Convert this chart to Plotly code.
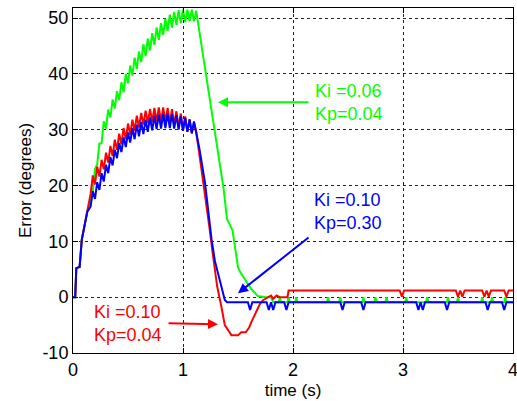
import plotly.graph_objects as go

# ---------------- data ----------------
t_green = [0.0, 0.02, 0.03, 0.06, 0.08, 0.11, 0.13, 0.16,
           0.18, 0.20, 0.22, 0.24, 0.26, 0.28, 0.30, 0.32, 0.34, 0.36, 0.38, 0.40,
           0.42, 0.44, 0.46, 0.48, 0.50, 0.52, 0.54, 0.56, 0.58, 0.60, 0.62, 0.64,
           0.66, 0.68, 0.70, 0.72, 0.74, 0.76, 0.78, 0.80, 0.82, 0.84, 0.86, 0.88,
           0.90, 0.92, 0.94, 0.96, 0.98, 1.00, 1.02, 1.04, 1.06, 1.08, 1.10, 1.12,
           1.31, 1.37, 1.40, 1.45, 1.50, 1.52, 1.57, 1.62, 1.68, 1.75, 1.80, 1.82,
           1.87, 1.88, 1.89, 1.95, 1.96, 1.97, 2.02, 2.03, 2.04, 2.31, 2.32, 2.33,
           2.42, 2.43, 2.44, 2.63, 2.64, 2.65, 2.74, 2.75, 2.76, 2.84, 2.85, 2.86,
           3.02, 3.03, 3.04, 3.21, 3.22, 3.23, 3.40, 3.41, 3.42, 3.49, 3.50, 3.51,
           3.71, 3.72, 3.73, 3.80, 3.81, 3.82, 3.92, 3.93, 3.94, 4.0]
err_green = [0.0, 0.0, 5.2, 5.4, 10.3, 13.5, 15.3, 17.0,
             18.8, 23.0, 23.8, 27.5, 27.6, 31.5, 30.2, 33.6, 32.2, 35.4, 33.8, 36.9,
             35.3, 38.5, 36.7, 40.0, 38.3, 41.5, 39.7, 42.9, 40.9, 44.0, 42.1, 45.3,
             43.2, 46.3, 44.2, 47.3, 45.2, 48.3, 46.1, 49.1, 47.0, 49.9, 47.7, 50.6,
             48.3, 51.1, 48.8, 51.4, 49.1, 51.5, 49.3, 51.5, 49.4, 51.5, 49.4, 51.3,
             26.5, 19.3, 14.0, 12.0, 5.4, 4.5, 3.0, 1.5, 0.2, 0.0, 0.0, -0.9,
             -0.9, 0.0, -0.9, -0.9, 0.0, -0.9, -0.9, 0.0, -0.9, -0.9, 0.0, -0.9,
             -0.9, 0.0, -0.9, -0.9, 0.0, -0.9, -0.9, 0.0, -0.9, -0.9, 0.0, -0.9,
             -0.9, 0.0, -0.9, -0.9, 0.0, -0.9, -0.9, 0.0, -0.9, -0.9, 0.0, -0.9,
             -0.9, 0.0, -0.9, -0.9, 0.0, -0.9, -0.9, 0.0, -0.9, -0.9]

t_red = [0.0, 0.02, 0.03, 0.06, 0.08, 0.11, 0.13,
         0.16, 0.18, 0.20, 0.22, 0.24, 0.26, 0.28, 0.30, 0.32, 0.34, 0.36, 0.38,
         0.40, 0.42, 0.44, 0.46, 0.48, 0.50, 0.52, 0.54, 0.56, 0.58, 0.60, 0.62,
         0.64, 0.66, 0.68, 0.70, 0.72, 0.74, 0.76, 0.78, 0.80, 0.82, 0.84, 0.86,
         0.88, 0.90, 0.92, 0.94, 0.96, 0.98, 1.00, 1.02, 1.04, 1.06, 1.08, 1.10, 1.12,
         1.16, 1.20, 1.24, 1.27, 1.31, 1.35, 1.38, 1.42, 1.44, 1.50, 1.53, 1.57,
         1.60, 1.62, 1.64, 1.67, 1.70, 1.73, 1.77, 1.80, 1.82, 1.85, 1.88, 1.95,
         1.96, 2.97, 2.99, 3.01, 3.48, 3.50, 3.52, 3.54, 3.56, 3.72, 3.74, 3.76,
         3.78, 3.80, 3.92, 3.94, 3.96, 4.0]
err_red = [0.0, 0.0, 5.2, 5.4, 10.3, 13.5, 15.3,
           18.5, 21.8, 20.2, 23.4, 21.6, 24.6, 22.9, 25.9, 24.1, 27.1, 25.3, 28.2,
           26.4, 29.3, 27.4, 30.3, 28.3, 31.1, 29.1, 31.8, 29.8, 32.5, 30.4, 33.0,
           30.9, 33.4, 31.2, 33.7, 31.4, 33.9, 31.5, 34.0, 31.5, 34.0, 31.4, 33.9,
           31.2, 33.7, 30.9, 33.3, 30.5, 32.9, 30.0, 32.4, 29.6, 31.9, 29.3, 31.3, 29.6,
           24.0, 18.5, 12.5, 7.9, 2.0, -1.8, -5.0, -6.2, -6.8, -6.8, -6.3, -6.3,
           -5.5, -4.5, -3.6, -2.5, -1.2, -0.5, 0.0, 0.3, -0.3, 0.3, 0.0, 0.0,
           1.2, 1.2, 0.1, 1.2, 1.2, 0.1, 1.2, 0.1, 1.2, 1.2, 0.1, 1.2,
           0.1, 1.2, 1.2, 0.1, 1.2, 1.2]

t_blue = [0.0, 0.02, 0.03, 0.06, 0.08, 0.11, 0.13,
          0.16, 0.18, 0.20, 0.22, 0.24, 0.26, 0.28, 0.30, 0.32, 0.34, 0.36, 0.38,
          0.40, 0.42, 0.44, 0.46, 0.48, 0.50, 0.52, 0.54, 0.56, 0.58, 0.60, 0.62,
          0.64, 0.66, 0.68, 0.70, 0.72, 0.74, 0.76, 0.78, 0.80, 0.82, 0.84, 0.86,
          0.88, 0.90, 0.92, 0.94, 0.96, 0.98, 1.00, 1.02, 1.04, 1.06, 1.08, 1.10, 1.12,
          1.15, 1.20, 1.26, 1.29, 1.32, 1.35, 1.38, 1.40,
          1.59, 1.61, 1.63, 1.76, 1.78, 1.80, 1.82, 1.84, 1.92, 1.94, 1.96,
          2.43, 2.45, 2.47, 2.62, 2.64, 2.66, 3.12, 3.14, 3.16, 3.18, 3.20,
          3.38, 3.40, 3.42, 3.75, 3.77, 3.79, 3.90, 3.92, 3.94, 4.0]
err_blue = [0.0, 0.0, 5.2, 5.4, 10.3, 13.5, 15.3,
            16.2, 19.0, 17.6, 20.6, 19.2, 22.2, 20.7, 23.7, 22.2, 25.1, 23.6, 26.4,
            24.9, 27.6, 26.0, 28.6, 26.9, 29.5, 27.7, 30.3, 28.3, 30.9, 28.8, 31.4,
            29.2, 31.8, 29.6, 32.2, 29.9, 32.5, 30.1, 32.7, 30.2, 32.8, 30.3, 32.9,
            30.3, 32.8, 30.2, 32.6, 30.0, 32.4, 29.8, 32.1, 29.6, 31.8, 29.4, 31.5, 29.5,
            26.5, 20.5, 10.3, 6.5, 4.3, 1.8, -0.5, -0.9,
            -0.9, -2.3, -0.9, -0.9, -2.3, -0.9, -2.3, -0.9, -0.9, -2.3, -0.9,
            -0.9, -2.3, -0.9, -0.9, -2.3, -0.9, -0.9, -2.3, -0.9, -2.3, -0.9,
            -0.9, -2.3, -0.9, -0.9, -2.3, -0.9, -0.9, -2.3, -0.9, -0.9]

x_ticks = [0, 1, 2, 3, 4]
y_ticks = [-10, 0, 10, 20, 30, 40, 50]

GREEN = "#00ff00"
RED = "#ff0000"
BLUE = "#0000ff"
FONT = "Liberation Sans, Arial, sans-serif"

fig = go.Figure()
fig.add_trace(go.Scatter(x=t_green, y=err_green, mode="lines",
                         line=dict(color=GREEN, width=2)))
fig.add_trace(go.Scatter(x=t_red, y=err_red, mode="lines",
                         line=dict(color=RED, width=2)))
fig.add_trace(go.Scatter(x=t_blue, y=err_blue, mode="lines",
                         line=dict(color=BLUE, width=2)))

annotations = [
    # green
    dict(x=2.18, y=34.8, text="Ki =0.06<br>Kp=0.04", showarrow=False,
         xanchor="left", yanchor="middle", align="left",
         font=dict(color=GREEN, size=18, family=FONT)),
    dict(x=1.318, y=34.9, ax=2.155, ay=34.9, xref="x", yref="y", axref="x", ayref="y",
         text="", showarrow=True, arrowhead=2, arrowsize=1, arrowwidth=2, arrowcolor=GREEN),
    # blue
    dict(x=2.17, y=15.4, text="Ki =0.10<br>Kp=0.30", showarrow=False,
         xanchor="left", yanchor="middle", align="left",
         font=dict(color=BLUE, size=18, family=FONT)),
    dict(x=1.5, y=0.7, ax=2.155, ay=10.9, xref="x", yref="y", axref="x", ayref="y",
         text="", showarrow=True, arrowhead=2, arrowsize=1, arrowwidth=2, arrowcolor=BLUE),
    # red
    dict(x=0.173, y=-4.75, text="Ki =0.10<br>Kp=0.04", showarrow=False,
         xanchor="left", yanchor="middle", align="left",
         font=dict(color=RED, size=18, family=FONT)),
    dict(x=1.318, y=-4.84, ax=0.855, ay=-4.66, xref="x", yref="y", axref="x", ayref="y",
         text="", showarrow=True, arrowhead=2, arrowsize=1, arrowwidth=2, arrowcolor=RED),
]

axis_common = dict(
    showgrid=True, gridcolor="#222222", griddash="3px,3px", gridwidth=1,
    showline=True, linecolor="black", linewidth=1, mirror="ticks",
    ticks="inside", ticklen=5, tickcolor="black",
    zeroline=False, tickfont=dict(size=18, color="black", family=FONT),
    ticklabeloverflow="allow", automargin=False,
)

fig.update_layout(
    width=517, height=401,
    margin=dict(l=73, r=4, t=8, b=48),
    paper_bgcolor="white", plot_bgcolor="white",
    showlegend=False,
    font=dict(family=FONT, color="black"),
    annotations=annotations,
    xaxis=dict(range=[0, 4], tickvals=x_ticks, ticktext=[str(v) for v in x_ticks],
               title=dict(text="time (s)", font=dict(size=17, family=FONT), standoff=5),
               **axis_common),
    yaxis=dict(range=[-10, 51.8], tickvals=y_ticks, ticktext=[str(v) for v in y_ticks],
               title=dict(text="Error (degrees)", font=dict(size=17, family=FONT), standoff=6),
               ticklabelstandoff=0,
               **axis_common),
)

fig.write_html("out.html")
